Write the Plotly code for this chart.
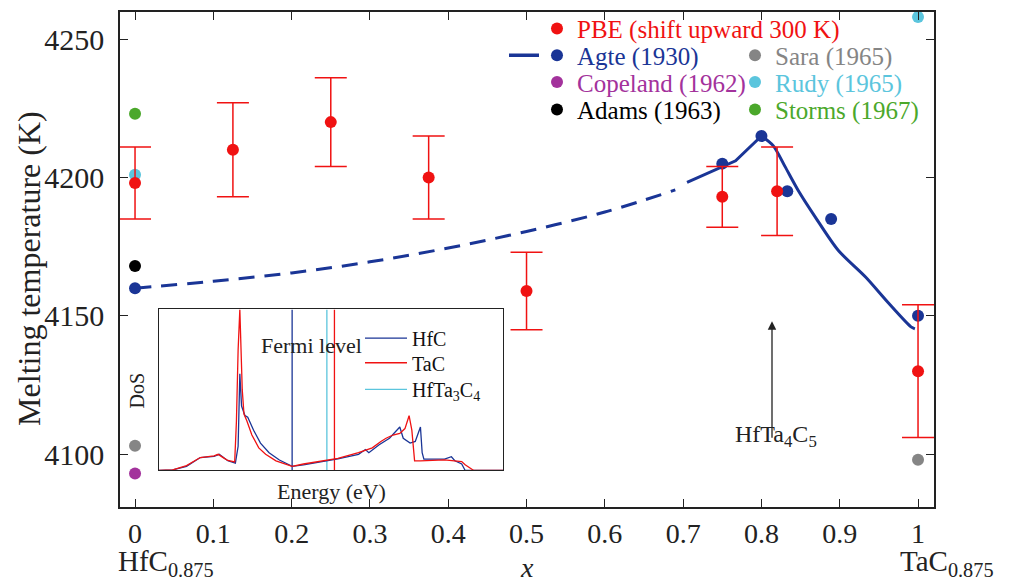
import plotly.graph_objects as go

FONT = "Liberation Serif"

# ---------------- data ----------------
pbe_x = [0, 0.125, 0.25, 0.375, 0.5, 0.75, 0.82, 1.0]
pbe_y = [4198, 4210, 4220, 4200, 4159, 4193, 4195, 4130]
pbe_err = [13, 17, 16, 15, 14, 11, 16, 24]

agte_x = [0, 0.75, 0.8, 0.833, 0.889, 1.0]
agte_y = [4160, 4205, 4215, 4195, 4185, 4150]

agte_dash_x = [0, 0.1, 0.2, 0.3, 0.4, 0.5, 0.6, 0.69]
agte_dash_y = [4160, 4162.5, 4165.5, 4169.5, 4174.5, 4180.5, 4187.5, 4195.5]
agte_rise_x = [0.705, 0.767, 0.8]
agte_rise_y = [4198.2, 4206, 4215]
agte_fall_x = [0.8, 0.815, 0.83, 0.847, 0.869, 0.898, 0.933, 0.962, 0.991, 0.996]
agte_fall_y = [4215, 4211.5, 4204, 4195.3, 4185.6, 4173.7, 4164, 4154.7, 4146, 4145.3]

copeland_x = [0]
copeland_y = [4093]
adams_x = [0]
adams_y = [4168]
sara_x = [0, 1]
sara_y = [4103, 4098]
rudy_x = [0, 1]
rudy_y = [4201, 4258]
storms_x = [0]
storms_y = [4223]

x_ticks = [0, 0.1, 0.2, 0.3, 0.4, 0.5, 0.6, 0.7, 0.8, 0.9, 1.0]
x_ticktext = ["0", "0.1", "0.2", "0.3", "0.4", "0.5", "0.6", "0.7", "0.8", "0.9", "1"]
y_ticks = [4100, 4150, 4200, 4250]

# inset DoS (arbitrary energy units)
tac_e = [0, 0.4, 0.8, 1.2, 1.6, 1.72, 1.9, 2.0, 2.2, 2.25, 2.3, 2.35, 2.42, 2.47, 2.55, 2.7, 2.9, 3.1, 3.4,
         3.87, 4.2, 4.6, 5.2, 5.8, 6.2, 6.45, 6.6, 6.8, 7.0, 7.15, 7.27, 7.35, 7.43, 7.6, 8.3, 8.8, 8.9, 9.15, 10]
tac_d = [0, 0.004, 0.03, 0.08, 0.09, 0.10, 0.075, 0.062, 0.053, 0.3, 0.75, 1.0, 0.5, 0.35, 0.31, 0.22, 0.14,
         0.10, 0.06, 0.025, 0.04, 0.055, 0.075, 0.11, 0.14, 0.18, 0.2, 0.22, 0.23, 0.26, 0.34, 0.25, 0.06, 0.06,
         0.065, 0.055, 0.035, 0.0, 0]
hfc_e = [0, 0.4, 0.8, 1.2, 1.6, 1.75, 2.0, 2.15, 2.22, 2.3, 2.35, 2.4, 2.5, 2.58, 2.75, 2.95, 3.2, 3.5, 3.87,
         4.2, 4.6, 5.2, 5.8, 6.0, 6.1, 6.4, 6.7, 6.9, 7.0, 7.1, 7.3, 7.45, 7.6, 7.65, 7.7, 8.3, 8.5, 8.6, 8.8,
         8.9, 10]
hfc_d = [0, 0.003, 0.025, 0.08, 0.088, 0.1, 0.06, 0.05, 0.045, 0.15, 0.6, 0.4, 0.34, 0.33, 0.25, 0.17, 0.11,
         0.065, 0.025, 0.035, 0.05, 0.072, 0.10, 0.13, 0.11, 0.16, 0.20, 0.25, 0.27, 0.2, 0.17, 0.18, 0.27,
         0.11, 0.07, 0.07, 0.085, 0.06, 0.04, 0.0, 0]
fermi_hfc = 3.87
fermi_tac = 5.1
fermi_hfta3c4 = 4.88

# ---------------- colours ----------------
RED = "#f01212"
BLUE = "#1a3596"
MAGENTA = "#a3329c"
GRAY = "#858585"
CYAN = "#5bc5dd"
GREEN = "#4ba82b"
BLACK = "#000000"

fig = go.Figure()

# Agte lines (no legend)
fig.add_trace(go.Scatter(x=agte_dash_x, y=agte_dash_y, mode="lines", showlegend=False,
                         line=dict(color=BLUE, width=3, dash="16px,10px", shape="spline")))
fig.add_trace(go.Scatter(x=agte_rise_x, y=agte_rise_y, mode="lines", showlegend=False,
                         line=dict(color=BLUE, width=3)))
fig.add_trace(go.Scatter(x=agte_fall_x, y=agte_fall_y, mode="lines", showlegend=False,
                         line=dict(color=BLUE, width=3, shape="spline", smoothing=0.8)))
# legend key for the Agte line (line sample only)
fig.add_trace(go.Scatter(x=[None], y=[None], mode="lines", name=" ", legend="legend11",
                         line=dict(color=BLUE, width=3.5)))

MS = 12
fig.add_trace(go.Scatter(x=sara_x, y=sara_y, mode="markers", name="Sara (1965)", legend="legend5",
                         marker=dict(color=GRAY, size=MS)))
fig.add_trace(go.Scatter(x=rudy_x, y=rudy_y, mode="markers", name="Rudy (1965)", legend="legend6",
                         marker=dict(color=CYAN, size=MS)))
fig.add_trace(go.Scatter(x=storms_x, y=storms_y, mode="markers", name="Storms (1967)", legend="legend7",
                         marker=dict(color=GREEN, size=MS)))
fig.add_trace(go.Scatter(x=copeland_x, y=copeland_y, mode="markers", name="Copeland (1962)", legend="legend3",
                         marker=dict(color=MAGENTA, size=MS)))
fig.add_trace(go.Scatter(x=adams_x, y=adams_y, mode="markers", name="Adams (1963)", legend="legend4",
                         marker=dict(color=BLACK, size=MS)))
fig.add_trace(go.Scatter(x=agte_x, y=agte_y, mode="markers", name="Agte (1930)", legend="legend2",
                         marker=dict(color=BLUE, size=MS)))
fig.add_trace(go.Scatter(x=pbe_x, y=pbe_y, mode="markers", name="PBE (shift upward 300 K)", legend="legend",
                         marker=dict(color=RED, size=MS),
                         error_y=dict(type="data", array=pbe_err, color=RED, thickness=1.5, width=16)))

# inset DoS
fig.add_trace(go.Scatter(x=[fermi_hfc, fermi_hfc], y=[0, 1], mode="lines", xaxis="x2", yaxis="y2",
                         showlegend=False, line=dict(color=BLUE, width=1.3)))
fig.add_trace(go.Scatter(x=[fermi_hfta3c4, fermi_hfta3c4], y=[0, 1], mode="lines", xaxis="x2", yaxis="y2",
                         showlegend=False, line=dict(color=CYAN, width=1.3)))
fig.add_trace(go.Scatter(x=[fermi_tac, fermi_tac], y=[0, 1], mode="lines", xaxis="x2", yaxis="y2",
                         showlegend=False, line=dict(color=RED, width=1.3)))
fig.add_trace(go.Scatter(x=hfc_e, y=hfc_d, mode="lines", xaxis="x2", yaxis="y2", name="HfC", legend="legend8",
                         line=dict(color=BLUE, width=1.3)))
fig.add_trace(go.Scatter(x=tac_e, y=tac_d, mode="lines", xaxis="x2", yaxis="y2", name="TaC", legend="legend9",
                         line=dict(color=RED, width=1.3)))
fig.add_trace(go.Scatter(x=[None], y=[None], mode="lines", xaxis="x2", yaxis="y2",
                         name="HfTa<sub>3</sub>C<sub>4</sub>", legend="legend10",
                         line=dict(color=CYAN, width=1.3)))

# ---------------- layout ----------------
W, H = 1014, 587
DY = 4  # page renders the figure slightly lower; compensate
L, R, T, B = 120, 80, 10 - DY, 76 + DY
PW, PH = W - L - R, H - T - B


def px_x(p):
    return (p - L) / PW


def px_y(p):
    return (H - B - (p - DY)) / PH


def leg(xp, yp, color, size=25, itemwidth=30):
    return dict(x=px_x(xp), y=px_y(yp), xanchor="left", yanchor="middle", bgcolor="rgba(0,0,0,0)",
                borderwidth=0, font=dict(family=FONT, size=size, color=color), itemclick=False,
                tracegroupgap=0, itemwidth=itemwidth)


col1, col2 = 537, 735
rows = [27, 54, 81, 109]

axis_common = dict(showline=True, linecolor="#222", linewidth=1.5, mirror="ticks", ticks="inside",
                   ticklen=8, tickwidth=1.3, tickcolor="#222", showgrid=False, zeroline=False,
                   tickfont=dict(family=FONT, size=28, color="#222"))

fig.update_layout(
    width=W, height=H,
    margin=dict(l=L, r=R, t=T, b=B),
    paper_bgcolor="white", plot_bgcolor="white",
    font=dict(family=FONT, color="#222"),
    xaxis=dict(axis_common, range=[-0.0192, 1.0204], tickvals=x_ticks, ticktext=x_ticktext,
               ticklabelstandoff=1),
    yaxis=dict(axis_common, range=[4080.9, 4259.8], tickvals=y_ticks, ticklabelstandoff=8,
               tickfont=dict(family=FONT, size=30, color="#222")),
    xaxis2=dict(domain=[px_x(159), px_x(503)], anchor="y2", range=[0, 10], showline=True, mirror=True,
                linecolor="#222", linewidth=1.2, showticklabels=False, ticks="", showgrid=False,
                zeroline=False),
    yaxis2=dict(domain=[px_y(474), px_y(311)], anchor="x2", range=[0, 1.0], showline=True, mirror=True,
                linecolor="#222", linewidth=1.2, showticklabels=False, ticks="", showgrid=False,
                zeroline=False),
    legend=leg(col1, rows[0], RED),
    legend2=leg(col1, rows[1], BLUE),
    legend3=leg(col1, rows[2], MAGENTA),
    legend4=leg(col1, rows[3], BLACK),
    legend5=leg(col2, rows[1], GRAY),
    legend6=leg(col2, rows[2], CYAN),
    legend7=leg(col2, rows[3], GREEN),
    legend8=leg(360, 340, "#111", 20, 42),
    legend9=leg(360, 365, "#111", 20, 42),
    legend10=leg(360, 392, "#111", 20, 42),
    legend11=leg(504, rows[1], BLUE, 25, 30),
)

ann = [
    dict(text="Melting temperature (K)", x=px_x(29), y=px_y(270), xref="paper", yref="paper",
         xanchor="center", yanchor="middle",
         textangle=-90, showarrow=False, font=dict(family=FONT, size=32, color="#222")),
    dict(text="HfC<sub>0.875</sub>", x=px_x(116), xref="paper", y=px_y(568), yref="paper", xanchor="left",
         yanchor="middle", showarrow=False, font=dict(family=FONT, size=29, color="#222")),
    dict(text="TaC<sub>0.875</sub>", x=px_x(898), xref="paper", y=px_y(568), yref="paper", xanchor="left",
         yanchor="middle", showarrow=False, font=dict(family=FONT, size=29, color="#222")),
    dict(text="<i>x</i>", x=0.5, xref="x", y=px_y(572), yref="paper", showarrow=False,
         xanchor="center", yanchor="middle",
         font=dict(family=FONT, size=28, color="#222")),
    dict(text="", x=0.8135, y=4148, xref="x", yref="y", showarrow=True, ax=0, ay=118,
         arrowhead=2, arrowsize=1.3, arrowwidth=1.3, arrowcolor="#222"),
    dict(text="HfTa<sub>4</sub>C<sub>5</sub>", x=0.819, y=4106.5, xref="x", yref="y", showarrow=False,
         xanchor="center", yanchor="middle",
         font=dict(family=FONT, size=24, color="#222")),
    dict(text="DoS", x=px_x(137), y=px_y(393), xref="paper", yref="paper", textangle=-90, showarrow=False,
         xanchor="center", yanchor="middle",
         font=dict(family=FONT, size=20, color="#222")),
    dict(text="Energy (eV)", x=px_x(331), y=px_y(495), xref="paper", yref="paper", showarrow=False,
         xanchor="center", yanchor="middle",
         font=dict(family=FONT, size=22, color="#222")),
    dict(text="Fermi level", x=px_x(311), y=px_y(348), xref="paper", yref="paper", showarrow=False,
         xanchor="center", yanchor="middle",
         font=dict(family=FONT, size=22, color="#222")),
]
fig.update_layout(annotations=ann)

fig.write_html("out.html", config={"displayModeBar": False},
               post_script="document.body.style.margin='0';document.body.style.overflow='hidden';")
